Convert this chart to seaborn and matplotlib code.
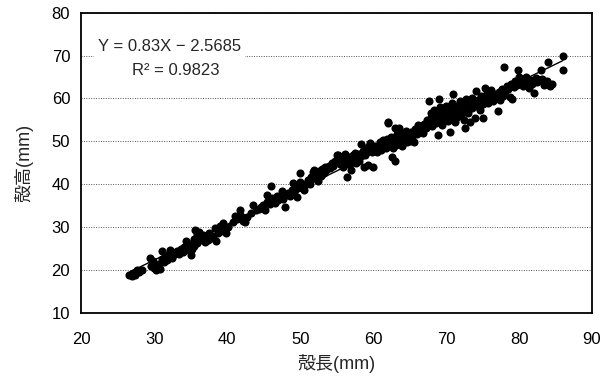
import matplotlib
matplotlib.use("Agg")
import matplotlib.pyplot as plt
import numpy as np
import pandas as pd
import seaborn as sns

# shell length (x) / shell height (y), grouped left to right
shell_length = [
    26.6, 26.9, 27.1, 27.3, 27.5, 27.7, 27.9, 28.3,
    29.4, 29.6, 29.8, 30.0, 30.2, 30.4, 30.6, 30.8, 31.0, 31.1, 31.3, 31.5, 31.7, 31.9, 32.2, 32.4,
    32.8, 33.1, 33.4, 33.6, 33.9, 34.1, 34.3, 34.5, 34.7, 34.9, 35.1, 35.2,
    35.4, 35.5, 35.6, 35.8, 35.9, 36.0, 36.2, 36.3, 36.5, 36.7, 36.9, 37.1, 37.3, 37.5, 37.8, 38.0,
    38.3, 38.5, 38.7, 39.0, 39.2, 39.4, 39.6, 39.8, 40.1,
    40.8, 41.1, 41.3, 41.7, 41.9, 42.2, 42.5, 42.7, 43.2, 43.6, 43.9,
    44.3, 44.6, 44.9, 45.2, 45.4, 45.5, 45.8, 46.0, 46.2, 46.4, 46.6, 46.8, 47.0, 47.3,
    47.5, 47.7, 47.9, 48.1, 48.4, 48.6, 48.9, 49.0, 49.2, 49.4, 49.5, 49.8, 50.0, 50.0,
    50.3, 50.5, 50.7, 50.9, 51.1, 51.3, 51.5, 51.7, 51.9, 52.0, 52.2, 52.4, 52.6, 52.8,
    53.0, 53.2, 53.4, 53.6, 53.9, 54.1, 54.3, 54.5, 54.8, 55.0,
    55.2, 55.4, 55.6, 55.8, 55.9, 56.1, 56.2, 56.4, 56.5, 56.7, 56.9, 57.0, 57.2, 57.3,
    57.5, 57.6, 57.8, 58.0, 58.1, 58.3, 58.4, 58.6, 58.7, 58.9, 59.0, 59.2, 59.3, 59.5,
    59.6, 59.8, 60.0, 60.1, 60.3, 60.5, 60.7, 60.9, 61.1, 61.3, 61.5, 61.7, 61.9,
    62.0, 62.1, 62.3, 62.4, 62.6, 62.7, 62.8, 63.0, 63.0, 63.2, 63.3, 63.5, 63.6, 63.8, 63.9,
    64.1, 64.3, 64.5, 64.6, 64.8, 65.0, 65.2, 65.4, 65.6, 65.8, 66.0, 66.2, 66.4, 66.6, 66.8,
    67.0, 67.2, 67.4, 67.6, 67.6, 67.9, 68.0, 68.1, 68.3, 68.5, 68.6, 68.8, 68.9, 69.0, 69.1,
    69.2, 69.4, 69.5, 69.7, 69.8, 70.0, 70.1, 70.3, 70.5, 70.5, 70.7, 70.8, 71.0, 71.1, 71.2,
    71.4, 71.5, 71.7, 71.9, 72.0,
    72.2, 72.4, 72.6, 72.6, 72.8, 73.0, 73.1, 73.3, 73.5, 73.6, 73.8, 74.0, 74.1, 74.2, 74.4,
    74.6, 74.8, 75.0, 75.1, 75.3, 75.4, 75.6, 75.8, 76.0, 76.2, 76.4, 76.6, 76.8, 77.1, 77.2, 77.4,
    77.6, 77.8, 78.0, 78.1, 78.3, 78.5, 78.7, 78.9, 79.1, 79.3, 79.5, 79.7, 79.9, 80.0, 80.2,
    80.4, 80.6, 80.8, 81.0, 81.2, 81.4, 81.6, 81.8, 82.1, 82.3,
    82.5, 82.7, 83.0, 83.2, 83.4, 83.6, 83.8, 84.0, 84.3, 84.5, 86.0, 86.0,
]
shell_height = [
    18.9, 18.5, 19.3, 18.8, 19.6, 19.9, 19.5, 20.1,
    22.8, 21.0, 22.2, 20.4, 20.0, 20.7, 21.3, 20.2, 24.4, 22.6, 21.8, 23.0, 22.4, 23.6, 24.7, 22.9,
    23.8, 24.4, 23.7, 24.9, 24.1, 25.3, 26.7, 25.8, 24.6, 26.1, 23.4, 24.9,
    25.6, 27.2, 29.3, 28.4, 26.3, 27.8, 28.9, 26.9, 27.5, 28.2, 26.6, 27.9, 27.1, 28.6, 27.4, 28.0,
    29.9, 26.7, 28.6, 30.3, 29.1, 30.9, 29.6, 28.6, 30.1,
    31.2, 32.6, 31.8, 34.0, 32.7, 31.5, 31.1, 32.3, 33.4, 35.2, 33.9,
    34.2, 34.6, 35.1, 34.0, 37.5, 35.8, 35.3, 39.6, 36.8, 36.2, 35.6, 37.3, 36.4, 37.0,
    38.5, 36.6, 34.8, 37.4, 38.0, 37.3, 38.6, 40.2, 37.8, 39.0, 37.1, 39.4, 42.6, 40.6,
    39.2, 38.6, 39.9, 40.4, 41.0, 40.0, 41.6, 42.9, 43.3, 41.5, 42.5, 40.8, 43.1, 42.0,
    43.6, 42.6, 44.1, 43.2, 44.3, 43.8, 45.0, 44.2, 45.3, 46.7,
    46.8, 44.7, 45.6, 46.2, 44.1, 45.2, 47.0, 41.6, 44.6, 46.3, 45.0, 43.4, 45.9, 46.8,
    47.2, 44.9, 46.0, 45.4, 47.1, 46.5, 49.4, 47.8, 44.1, 46.9, 48.4, 47.5, 44.5, 48.9,
    49.7, 47.6, 43.9, 48.2, 49.0, 47.4, 48.6, 49.8, 48.0, 50.2, 49.2, 48.5, 50.6,
    54.4, 54.2, 49.4, 51.0, 46.4, 48.4, 50.3, 53.0, 45.5, 49.2, 51.6, 53.0, 50.0, 52.1, 48.9,
    51.3, 50.4, 52.5, 49.8, 51.0, 50.1, 52.2, 51.5, 49.8, 52.8, 51.8, 53.8, 52.4, 53.2, 52.0,
    54.0, 53.0, 55.0, 59.3, 54.2, 55.4, 56.5, 53.6, 57.4, 55.6, 54.2, 56.8, 51.5, 59.8, 55.0,
    57.9, 56.2, 53.8, 57.0, 55.5, 58.3, 56.4, 54.7, 52.1, 57.6, 55.9, 59.0, 61.0, 56.8, 54.4,
    58.2, 55.6, 57.4, 59.4, 56.2,
    58.8, 55.0, 53.1, 57.6, 59.9, 56.7, 58.4, 54.6, 60.2, 57.8, 59.0, 55.4, 61.7, 58.2, 59.6,
    57.2, 60.5, 58.6, 55.5, 62.4, 59.8, 61.2, 58.9, 60.4, 62.0, 59.3, 61.0, 60.0, 57.1, 61.6, 59.6,
    62.2, 60.6, 67.4, 61.8, 63.0, 62.2, 60.4, 63.4, 59.8, 62.6, 64.0, 63.2, 66.6, 65.1, 63.8,
    64.6, 62.9, 63.5, 64.9, 63.6, 62.4, 64.2, 63.3, 61.2, 64.8,
    63.9, 64.3, 66.6, 64.6, 63.2, 63.5, 64.0, 68.6, 62.8, 63.4, 70.0, 66.6,
]

# trend line as printed on the chart
slope = 0.83
intercept = -2.5685
r_squared = 0.9823

df = pd.DataFrame({"length": shell_length, "height": shell_height})
fit_x = [df["length"].min(), df["length"].max()]
fit = pd.DataFrame({"length": fit_x, "height": [slope * v + intercept for v in fit_x]})

sns.set_style("white")
plt.rcParams["font.family"] = ["Liberation Sans", "Noto Sans CJK JP", "DejaVu Sans"]

fig = plt.figure(figsize=(6.16, 3.83), dpi=100)
ax = fig.add_axes([0.132, 0.183, 0.829, 0.784])

ax.grid(axis="y", color="#555555", linestyle=(0, (1, 1.5)), linewidth=0.7)
ax.set_axisbelow(True)

sns.scatterplot(data=df, x="length", y="height", color="black", s=34,
                linewidth=0, ax=ax, zorder=3)
sns.lineplot(data=fit, x="length", y="height", color="black", linewidth=1.0,
             ax=ax, zorder=4)

ax.set_xlim(20, 90)
ax.set_ylim(10, 80)
ax.set_xticks(range(20, 91, 10))
ax.set_yticks(range(10, 81, 10))
ax.tick_params(axis="both", direction="in", length=3, width=0.8, labelsize=12,
               colors="black", pad=8)
ax.tick_params(axis="x", pad=14)
for sp in ax.spines.values():
    sp.set_color("black")
    sp.set_linewidth(1.3)

ax.set_xlabel("殻長(mm)", fontsize=13, labelpad=5)
ax.set_ylabel("殻高(mm)", fontsize=13, labelpad=13)

ax.text(22.3, 72.2, f"Y = {slope}X − {abs(intercept)}", fontsize=12, va="center",
        ha="left", zorder=5,
        bbox=dict(facecolor="white", edgecolor="none", pad=3))
ax.text(26.9, 66.6, f"R² = {r_squared}", fontsize=12, va="center", ha="left",
        zorder=5, bbox=dict(facecolor="white", edgecolor="none", pad=3))

fig.savefig("out.png", dpi=100)
